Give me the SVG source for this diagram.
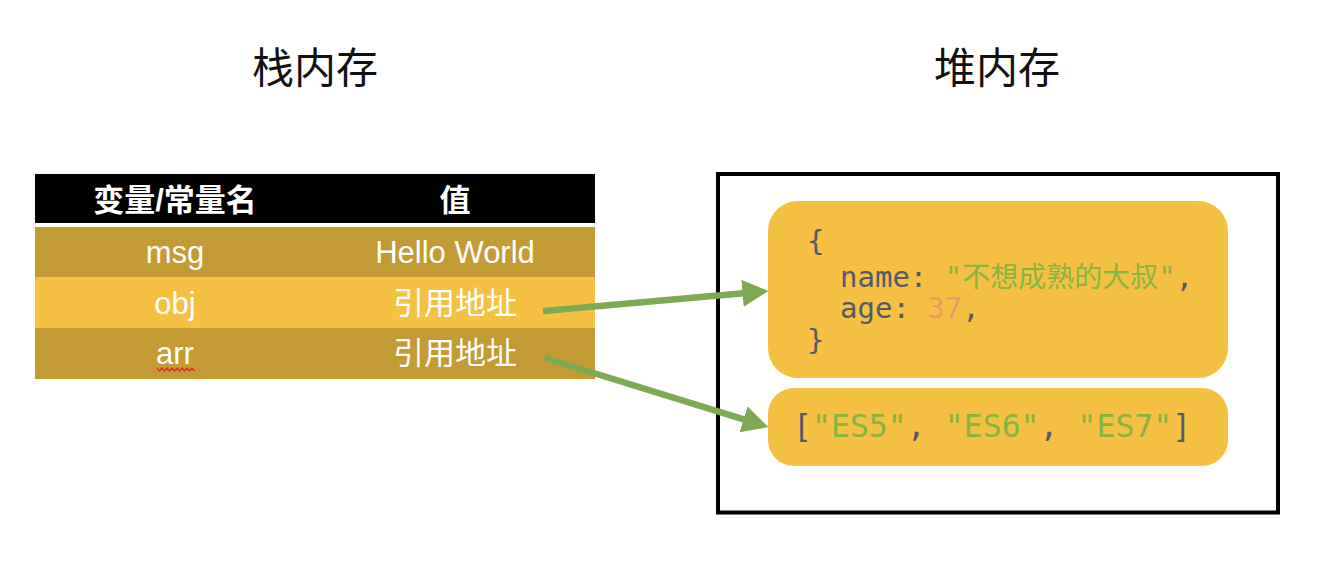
<svg xmlns="http://www.w3.org/2000/svg" width="1326" height="564" viewBox="0 0 1326 564">
<style>
.title{font-family:"Noto Sans CJK SC","Noto Sans",sans-serif;font-size:42px;fill:#111;text-anchor:middle}
.hd{font-family:"Liberation Sans","Noto Sans CJK SC",sans-serif;font-size:31px;font-weight:bold;fill:#fff;text-anchor:middle}
.cell{font-family:"Liberation Sans","Noto Sans CJK SC",sans-serif;font-size:31px;fill:#fff;text-anchor:middle}
.code{font-family:"DejaVu Sans Mono","Noto Sans CJK SC",monospace;font-size:29px;fill:#525B69}
.arrcode{font-size:31.5px}
.str{fill:#86B540}
.num{fill:#EE9A6A}
.dark{fill:#C49A35}
.light{fill:#F5C142}
.box{fill:#F5C142}
.conn{stroke:#7DAA52;stroke-width:6.5;fill:none}
</style>
<defs>
<marker id="ah" markerUnits="userSpaceOnUse" viewBox="0 -14 26 28" refX="1" refY="0" markerWidth="26" markerHeight="28" orient="auto">
<path d="M0,-13.5 L26,0 L0,13.5 z" fill="#7DAA52"/>
</marker>
</defs>
<text class="title" x="315" y="83">栈内存</text>
<text class="title" x="997" y="83">堆内存</text>
<g id="stack-table">
<rect x="35" y="174" width="560" height="49" fill="#000"/>
<text class="hd" x="175" y="211">变量/常量名</text>
<text class="hd" x="455" y="211">值</text>
<g id="row-msg">
<rect class="dark" x="35" y="227" width="560" height="50"/>
<text class="cell" x="175" y="263">msg</text>
<text class="cell" x="455" y="263">Hello World</text>
</g>
<g id="row-obj">
<rect class="light" x="35" y="277" width="560" height="51"/>
<text class="cell" x="175" y="314">obj</text>
<text class="cell" x="455" y="314">引用地址</text>
</g>
<g id="row-arr">
<rect class="dark" x="35" y="328" width="560" height="51"/>
<text class="cell" x="175" y="364">arr</text>
<text class="cell" x="455" y="364">引用地址</text>
<path d="M157,368 l2.5,3 l2.5,-3 l2.5,3 l2.5,-3 l2.5,3 l2.5,-3 l2.5,3 l2.5,-3 l2.5,3 l2.5,-3 l2.5,3 l2.5,-3 l2.5,3 l2.5,-3 l2.5,3" stroke="#E0302A" stroke-width="1.3" fill="none"/>
</g>
</g>
<g id="heap">
<rect x="718" y="174" width="560" height="338.5" fill="none" stroke="#000" stroke-width="4"/>
</g>
<g id="obj-node">
<rect class="box" x="768" y="201" width="460" height="177" rx="30"/>
<text class="code" x="807" y="251">{</text>
<text class="code" x="840" y="287">name: <tspan class="str">"<tspan style="font-size:28px">不想成熟的大叔</tspan>"</tspan>,</text>
<text class="code" x="840" y="318">age: <tspan class="num">37</tspan>,</text>
<text class="code" x="807" y="350">}</text>
</g>
<g id="arr-node">
<rect class="box" x="768" y="388" width="460" height="78" rx="26"/>
<text class="code arrcode" x="793" y="437">[<tspan class="str">"ES5"</tspan>, <tspan class="str">"ES6"</tspan>, <tspan class="str">"ES7"</tspan>]</text>
</g>
<g id="connectors">
<line class="conn" x1="543" y1="311" x2="743.5" y2="293.2" marker-end="url(#ah)"/>
<line class="conn" x1="545" y1="358" x2="744.5" y2="419.7" marker-end="url(#ah)"/>
</g>
</svg>
